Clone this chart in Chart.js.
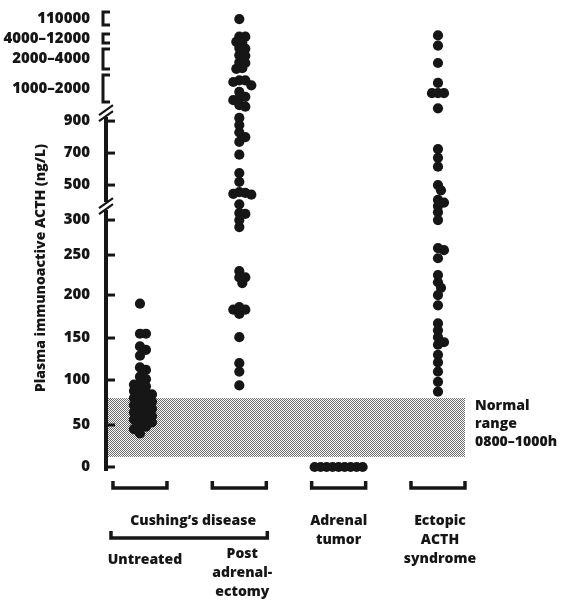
<!DOCTYPE html>
<html>
<head>
<meta charset="utf-8">
<script src="https://cdn.jsdelivr.net/npm/chart.js@4.4.1/dist/chart.umd.min.js"></script>
<style>
  html, body { margin: 0; padding: 0; background: #fff; }
  #wrap { width: 567px; height: 600px; }
</style>
</head>
<body>
<div id="wrap"><canvas id="chart" width="567" height="600"></canvas></div>
<script>
// groups along the bottom, one slot each
const slots = [1, 2, 3, 4];
const groupLines = [['Untreated'], ['Post', 'adrenal-', 'ectomy'], ['Adrenal', 'tumor'], ['Ectopic', 'ACTH', 'syndrome']];

// plasma ACTH (ng/L)
const untreated = [190, 155, 155, 140, 136, 129, 115, 112, 104, 101,
  97, 95, 93, 90, 88, 86, 84, 82, 80, 78, 76, 74, 72, 70, 68, 66, 64, 62,
  60, 58, 56, 55, 53, 50, 48, 45, 40];
const postAdrenalectomy = [110000, 9100, 9000, 6300, 6200,
  3850, 3800, 3300, 3250, 2750, 2700, 2300, 2250,
  1750, 1750, 1700, 1600, 1400, 1250, 1200, 1150, 1000, 990,
  920, 875, 830, 800, 770, 690, 575, 520, 460, 455, 450, 445, 390, 340, 335, 300, 290,
  230, 222, 222, 215, 186, 183, 183, 178, 151, 120, 110, 94];
const adrenalTumor = [0, 0, 0, 0, 0, 0, 0, 0, 0];
const ectopic = [9700, 4300, 2700, 1670, 1360, 1360, 1360, 980, 725, 670, 615,
  500, 470, 415, 400, 380, 345, 300, 260, 257, 246, 225, 216, 209, 200, 188,
  167, 159, 151, 145, 142, 130, 121, 110, 98, 87];

// axis labels
const tickValues = [0, 50, 100, 150, 200, 250, 300, 500, 700, 900];
const rangeTicks = [
  { lo: 1000, hi: 2000, label: '1000–2000' },
  { lo: 2000, hi: 4000, label: '2000–4000' },
  { lo: 4000, hi: 12000, label: '4000–12000' },
  { lo: 110000, hi: 110000, label: '110000' }
];
const axisBreaks = [380, 950];
const normalRange = [12, 80];
const normalLabel = ['Normal', 'range', '0800–1000h'];

// the broken axis: value -> axis position, piecewise linear
const axisKnots = [
  [0, 0], [50, 42], [100, 87], [150, 129], [200, 172], [250, 212], [300, 247],
  [500, 282], [700, 314], [900, 346], [1000, 362], [2000, 395], [4000, 421],
  [12000, 436], [110000, 448]
];

function toAxis(v) {
  if (v <= axisKnots[0][0]) return v * axisKnots[1][1] / axisKnots[1][0];
  for (let i = 1; i < axisKnots.length; i++) {
    const [v0, p0] = axisKnots[i - 1], [v1, p1] = axisKnots[i];
    if (v <= v1) return p0 + (v - v0) / (v1 - v0) * (p1 - p0);
  }
  return axisKnots[axisKnots.length - 1][1];
}

// simple beeswarm so overlapping dots get nudged sideways
const SLOT_PX = 99.3, STEP = 3, MIN_GAP = 6;
function swarm(values, slot) {
  const placed = [];
  values.map(v => toAxis(v)).sort((a, b) => b - a).forEach(y => {
    for (let k = 0; k < 60; k++) {
      const off = (k % 2 ? 1 : -1) * Math.ceil(k / 2) * STEP;
      if (!placed.some(q => Math.hypot(off - q.off, y - q.y) < MIN_GAP)) {
        placed.push({ off, y });
        break;
      }
    }
  });
  return placed.map(p => ({ x: slot + p.off / SLOT_PX, y: p.y }));
}

const FONT = '"Open Sans", "DejaVu Sans", sans-serif';
const WEIGHT = 800;
const INK = '#161616';

const tickPositions = tickValues.map(toAxis).concat(rangeTicks.map(r => (toAxis(r.lo) + toAxis(r.hi)) / 2));
const tickLabels = tickValues.map(String).concat(rangeTicks.map(r => r.label));

function stipple(ctx) {
  const c = document.createElement('canvas');
  c.width = 2; c.height = 2;
  const g = c.getContext('2d');
  g.fillStyle = '#fff'; g.fillRect(0, 0, 2, 2);
  g.fillStyle = '#6a6a6a'; g.fillRect(0, 0, 1, 1); g.fillRect(1, 1, 1, 1);
  return ctx.createPattern(c, 'repeat');
}

const bandPlugin = {
  id: 'band',
  beforeDatasetsDraw(chart) {
    const { ctx, chartArea, scales: { y } } = chart;
    const top = y.getPixelForValue(toAxis(normalRange[1]));
    const bot = y.getPixelForValue(toAxis(normalRange[0]));
    ctx.save();
    ctx.fillStyle = stipple(ctx);
    ctx.fillRect(chartArea.left, top, chartArea.right - chartArea.left, bot - top);
    ctx.restore();
  }
};

const decorPlugin = {
  id: 'decor',
  afterDraw(chart) {
    const { ctx, chartArea, scales: { x, y } } = chart;
    const ax = chartArea.left;
    ctx.save();
    ctx.strokeStyle = INK;
    ctx.fillStyle = INK;
    ctx.lineCap = 'butt';

    // axis line with two breaks
    const b1 = y.getPixelForValue(toAxis(axisBreaks[0]));
    const b2 = y.getPixelForValue(toAxis(axisBreaks[1]));
    ctx.lineWidth = 4;
    ctx.beginPath();
    ctx.moveTo(ax, chartArea.bottom);
    ctx.lineTo(ax, b1 + 4);
    ctx.moveTo(ax, b1 - 4);
    ctx.lineTo(ax, b2 + 4);
    ctx.stroke();
    ctx.lineWidth = 2.2;
    [b1, b2].forEach(b => {
      ctx.beginPath();
      [-3, 3].forEach(s => {
        ctx.moveTo(ax - 7, b + s + 5);
        ctx.lineTo(ax + 7, b + s - 5);
      });
      ctx.stroke();
    });

    // tick marks on the inside
    ctx.lineWidth = 3;
    tickValues.forEach(v => {
      const py = y.getPixelForValue(toAxis(v));
      ctx.beginPath();
      ctx.moveTo(ax, py);
      ctx.lineTo(ax + 9, py);
      ctx.stroke();
    });

    // brackets for the compressed top ranges
    ctx.lineWidth = 3;
    const bx = ax - 3;
    rangeTicks.forEach(r => {
      let yt, yb;
      if (r.lo === r.hi) {
        const c = y.getPixelForValue(toAxis(r.lo));
        yt = c - 7; yb = c + 6;
      } else {
        yt = y.getPixelForValue(toAxis(r.hi)) + 3;
        yb = y.getPixelForValue(toAxis(r.lo)) - 3;
      }
      ctx.beginPath();
      ctx.moveTo(bx + 7, yt);
      ctx.lineTo(bx, yt);
      ctx.lineTo(bx, yb);
      ctx.lineTo(bx + 7, yb);
      ctx.stroke();
    });

    const font = WEIGHT + ' 14px ' + FONT;

    // y title
    ctx.save();
    ctx.translate(41, 268);
    ctx.rotate(-Math.PI / 2);
    ctx.font = font;
    ctx.textAlign = 'center';
    ctx.textBaseline = 'middle';
    ctx.fillText('Plasma immunoactive ACTH (ng/L)', 0, 0);
    ctx.restore();

    // normal range note
    const nTop = y.getPixelForValue(toAxis(normalRange[1]));
    ctx.font = font;
    ctx.textAlign = 'left';
    ctx.textBaseline = 'middle';
    normalLabel.forEach((t, i) => ctx.fillText(t, chartArea.right + 10, nTop + 8 + i * 18));

    // group brackets under the columns
    const cb = chartArea.bottom;
    ctx.lineWidth = 3.5;
    slots.forEach(s => {
      const xc = x.getPixelForValue(s);
      ctx.beginPath();
      ctx.moveTo(xc - 27, cb + 10);
      ctx.lineTo(xc - 27, cb + 17);
      ctx.lineTo(xc + 27, cb + 17);
      ctx.lineTo(xc + 27, cb + 10);
      ctx.stroke();
    });

    // Cushing's disease spans the first two groups
    const c1 = x.getPixelForValue(slots[0]) - 29;
    const c2 = x.getPixelForValue(slots[1]) + 28;
    ctx.beginPath();
    ctx.moveTo(c1, cb + 60);
    ctx.lineTo(c1, cb + 67);
    ctx.lineTo(c2, cb + 67);
    ctx.lineTo(c2, cb + 60);
    ctx.stroke();

    ctx.textAlign = 'center';
    ctx.fillText("Cushing’s disease", (c1 + c2) / 2 + 4, cb + 50);

    const labelTop = [cb + 89, cb + 83, cb + 50, cb + 50];
    const labelShift = [5, 3, 0, 2];
    groupLines.forEach((lines, i) => {
      const xc = x.getPixelForValue(slots[i]) + labelShift[i];
      lines.forEach((t, j) => ctx.fillText(t, xc, labelTop[i] + j * 19));
    });
    ctx.restore();
  }
};

const dotStyle = { pointRadius: 5.1, pointHoverRadius: 5.1, backgroundColor: INK, borderWidth: 0, clip: false, showLine: false };

new Chart(document.getElementById('chart'), {
  type: 'scatter',
  data: {
    datasets: [
      { label: 'Untreated', data: swarm(untreated, slots[0]), ...dotStyle },
      { label: 'Post adrenalectomy', data: swarm(postAdrenalectomy, slots[1]), ...dotStyle },
      { label: 'Adrenal tumor', data: swarm(adrenalTumor, slots[2]), ...dotStyle },
      { label: 'Ectopic ACTH syndrome', data: swarm(ectopic, slots[3]), ...dotStyle }
    ]
  },
  options: {
    responsive: false,
    animation: false,
    layout: { padding: { top: 5, bottom: 129, left: 0, right: 102 } },
    plugins: { legend: { display: false }, tooltip: { enabled: false } },
    scales: {
      x: { type: 'linear', min: 0.658, max: 4.272, display: false },
      y: {
        type: 'linear',
        min: -4,
        max: 462,
        afterBuildTicks: s => { s.ticks = tickPositions.map(v => ({ value: v })); },
        // fixed width, and no extra room reserved for the end labels
        afterFit: s => { s.width = 106; s.paddingTop = 0; s.paddingBottom = 0; },
        grid: { display: false, drawTicks: false },
        border: { display: false },
        ticks: {
          autoSkip: false,
          padding: 16,
          color: INK,
          font: { family: FONT, size: 15, weight: WEIGHT },
          callback: (v, i) => tickLabels[i]
        }
      }
    }
  },
  plugins: [bandPlugin, decorPlugin]
});
</script>
</body>
</html>
